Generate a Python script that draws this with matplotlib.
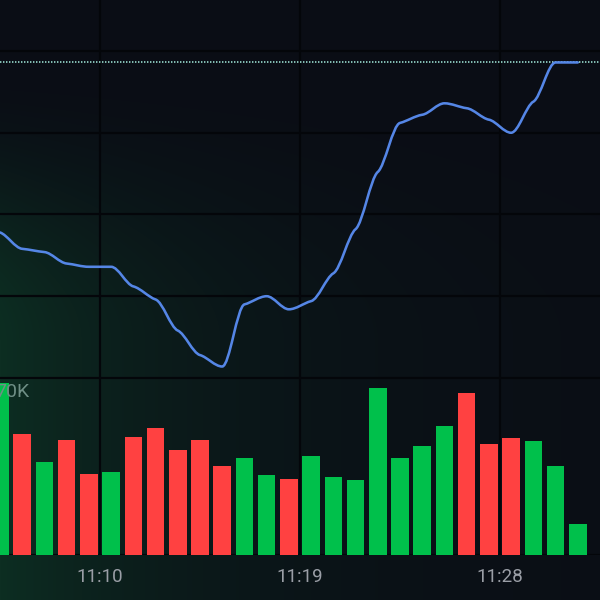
import numpy as np
import matplotlib
matplotlib.use("Agg")
import matplotlib.pyplot as plt
from matplotlib.path import Path
from matplotlib.patches import PathPatch

# minute-by-minute data (one bar / one price point per minute, 11:05:30 onwards)
price = [100.89, 100.79, 100.77, 100.70, 100.68, 100.68, 100.56, 100.48, 100.29,
         100.14, 100.07, 100.45, 100.50, 100.42, 100.47, 100.64, 100.91, 101.26,
         101.56, 101.61, 101.68, 101.65, 101.58, 101.50, 101.69, 101.93, 101.93]
volume = [68000, 47900, 36800, 45500, 32000, 32800, 46700, 50200, 41500,
          45500, 35200, 38400, 31600, 30100, 39200, 30800, 29700, 66000,
          38400, 43100, 51000, 64100, 43900, 46300, 45100, 35200, 12300]
up = [1, 0, 1, 0, 0, 1, 0, 0, 0, 0, 0, 1, 1, 0, 1, 1, 1, 1, 1, 1, 1, 0, 0, 0, 1, 1, 1]
tick_pos = [4.5, 13.5, 22.5]
tick_labels = ["11:10", "11:19", "11:28"]
price_grid = [100.0, 100.5, 101.0, 101.5, 102.0]
last_price = 101.93
vol_label = "70K"

plt.rcParams['font.family'] = ['Roboto', 'DejaVu Sans']

fig = plt.figure(figsize=(6, 6), dpi=100)
fig.patch.set_facecolor("#0a0d15")

# background with a green glow on the left
H, W = 600, 600
yy, xx = np.mgrid[0:H, 0:W]
base = np.array([10, 13, 21]) / 255
glow = np.array([13, 46, 34]) / 255
wy = np.clip((yy - 60) / 280, 0, 1)
wy = wy * wy * (3 - 2 * wy)
w = np.exp(-xx / 200.0) * wy
img = base[None, None, :] * (1 - w[..., None]) + glow[None, None, :] * w[..., None]
bg = fig.add_axes([0, 0, 1, 1], zorder=0)
bg.imshow(img, extent=[0, 1, 0, 1], aspect="auto", origin="upper")
bg.axis("off")

ax = fig.add_axes([0, 45 / 600, 1, 555 / 600], zorder=1)
ax.patch.set_visible(False)
ax.set_xlim(0, 27)
ax.set_ylim(98.917, 102.312)

# grid
ax.set_yticks(price_grid)
ax.set_xticks(tick_pos, tick_labels)
ax.grid(True, color="#04060a", lw=1.6)
ax.set_axisbelow(True)
ax.tick_params(left=False, labelleft=False, length=0, pad=9,
               labelsize=13.5, labelcolor="#9a9ea6")
for s in ax.spines.values():
    s.set_visible(False)
ax.axhline(98.917, color="#04060a", lw=1.6)

# dotted last-price line
ax.axhline(last_price, color="#98dccf", lw=1.2, ls=(0, (0.85, 0.95)), zorder=2)

# smooth price line (flattened cubic through each minute)
x = np.arange(len(price), dtype=float)
y = np.array(price)
s = np.diff(y)
m = np.zeros_like(y)
for i in range(1, len(y) - 1):
    if s[i - 1] * s[i] > 0:
        m[i] = np.sign(s[i]) * 2 * min(abs(s[i - 1]), abs(s[i]), abs(s[i - 1] + s[i]) / 4)
m[0] = (3 * s[0] - m[1]) / 2
m[-1] = 0.0
m = m * 0.35
verts = [(x[0], y[0])]
codes = [Path.MOVETO]
for i in range(len(y) - 1):
    verts += [(x[i] + 1 / 3, y[i] + m[i] / 3),
              (x[i + 1] - 1 / 3, y[i + 1] - m[i + 1] / 3),
              (x[i + 1], y[i + 1])]
    codes += [Path.CURVE4] * 3
ax.add_patch(PathPatch(Path(verts, codes), fill=False, edgecolor="#5586e6",
                       lw=1.85, zorder=3, capstyle="round", joinstyle="round"))

# volume bars
axv = ax.twinx()
axv.set_ylim(0, 219500)
colors = ["#00c04b" if u else "#ff4141" for u in up]
axv.bar(x, volume, width=0.79, color=colors, zorder=2)
axv.set_yticks([])
axv.tick_params(right=False, labelright=False)
for s_ in axv.spines.values():
    s_.set_visible(False)

fig.text(-0.008, 1 - 392 / 600, vol_label, ha="left", va="center",
         fontsize=14, color="#6f8f86")

fig.savefig("out.png", dpi=100, facecolor=fig.get_facecolor())
